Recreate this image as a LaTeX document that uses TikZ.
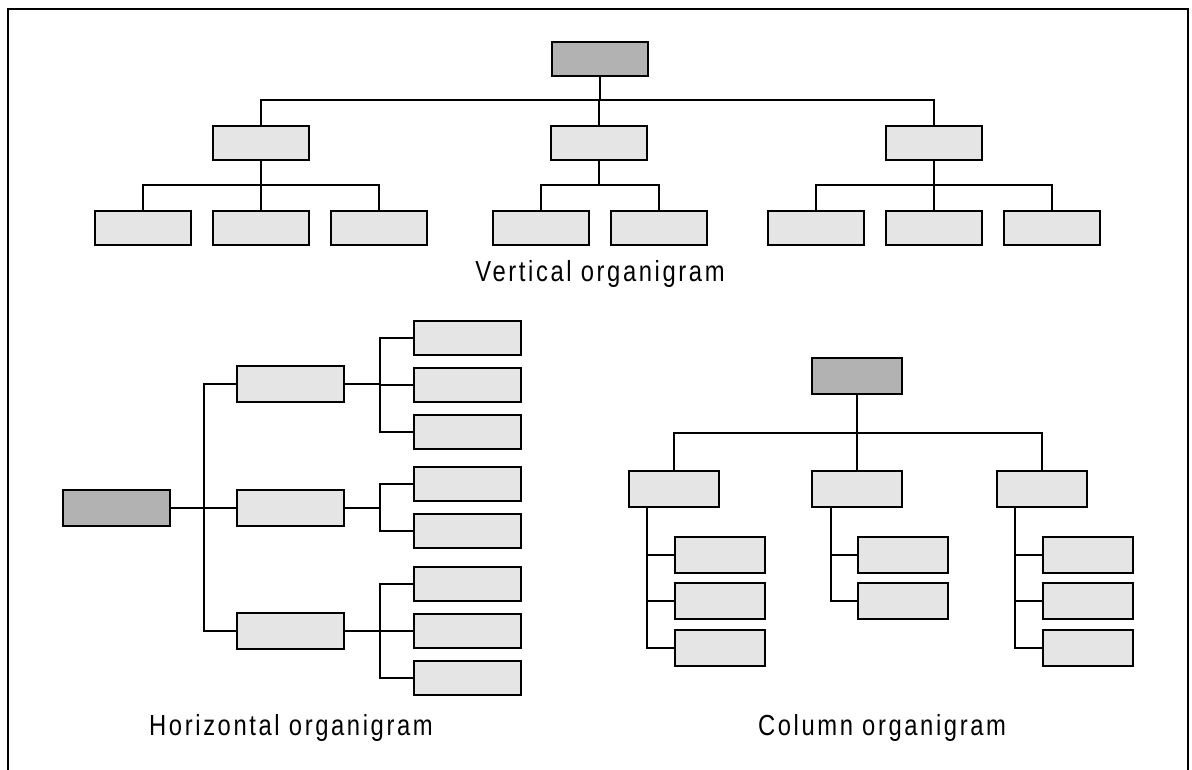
\documentclass[tikz,border=0pt]{standalone}
\usepackage{fontspec}
\setmainfont{Liberation Sans}[FakeStretch=0.82,LetterSpace=9]
\begin{document}
\begin{tikzpicture}[x=1pt,y=-1pt,
  line width=2pt,
  lite/.style={draw,fill=black!10,minimum width=96pt,minimum height=34pt,inner sep=0pt},
  dark/.style={draw,fill=black!30,minimum width=96pt,minimum height=34pt,inner sep=0pt},
  wide/.style={minimum width=107pt},
  mid/.style={minimum width=90pt},
  tall/.style={minimum height=36pt},
  caption/.style={font=\fontsize{29}{33}\selectfont,anchor=base,inner sep=0pt}]
\useasboundingbox (0,0) rectangle (1192,770);
% outer frame, open at the bottom
\draw (8,770) -- (8,9) -- (1188,9) -- (1188,770);

% ---------- vertical organigram ----------
\node[dark] (vr) at (600,59) {};
\node[lite] (va) at (261,143) {};
\node[lite] (vb) at (599,143) {};
\node[lite] (vc) at (934,143) {};
\node[lite] (va1) at (143,228) {};
\node[lite] (va2) at (261,228) {};
\node[lite] (va3) at (379,228) {};
\node[lite] (vb1) at (541,228) {};
\node[lite] (vb2) at (659,228) {};
\node[lite] (vc1) at (816,228) {};
\node[lite] (vc2) at (934,228) {};
\node[lite] (vc3) at (1052,228) {};
\coordinate (vbus) at (600,100);
\coordinate (vabus) at (261,185);
\coordinate (vbbus) at (599,185);
\coordinate (vcbus) at (934,185);
\draw (vr.south) -- (vbus);
\draw (va.north) |- (vbus) -| (vc.north);
\draw (vb.north) -- (vb.north |- vbus);
\draw (va.south) -- (vabus);
\draw (va1.north) |- (vabus) -| (va3.north);
\draw (va2.north) -- (vabus);
\draw (vb.south) -- (vbbus);
\draw (vb1.north) |- (vbbus) -| (vb2.north);
\draw (vc.south) -- (vcbus);
\draw (vc1.north) |- (vcbus) -| (vc3.north);
\draw (vc2.north) -- (vcbus);
\node[caption] (vcap) at (600,282) {Vertical organigram};

% ---------- horizontal organigram ----------
\node[dark,wide,tall] (hr) at (116,508) {};
\node[lite,wide,tall] (ha) at (290,384) {};
\node[lite,wide,tall] (hb) at (290,508) {};
\node[lite,wide,tall] (hc) at (290,631) {};
\node[lite,wide] (ha1) at (467,338) {};
\node[lite,wide] (ha2) at (467,385) {};
\node[lite,wide] (ha3) at (467,432) {};
\node[lite,wide] (hb1) at (467,484) {};
\node[lite,wide] (hb2) at (467,531) {};
\node[lite,wide] (hc1) at (467,584) {};
\node[lite,wide] (hc2) at (467,631) {};
\node[lite,wide] (hc3) at (467,678) {};
\coordinate (hbus) at (204,508);
\coordinate (habus) at (380,384);
\coordinate (hbbus) at (380,508);
\coordinate (hcbus) at (380,631);
\draw (hr.east) -- (hb.west);
\draw (ha.west) -| (hbus) |- (hc.west);
\draw (ha.east) -- (habus);
\draw (ha1.west) -| (habus) |- (ha3.west);
\draw (ha2.west) -- (ha2.west -| habus);
\draw (hb.east) -- (hbbus);
\draw (hb1.west) -| (hbbus) |- (hb2.west);
\draw (hc.east) -- (hcbus);
\draw (hc1.west) -| (hcbus) |- (hc3.west);
\draw (hc2.west) -- (hc2.west -| hcbus);
\node[caption] (hcap) at (291,735) {Horizontal organigram};

% ---------- column organigram ----------
\node[dark,mid,tall] (cr) at (857,376) {};
\node[lite,mid,tall] (ca) at (674,489) {};
\node[lite,mid,tall] (cb) at (857,489) {};
\node[lite,mid,tall] (cc) at (1042,489) {};
\node[lite,mid,tall] (ca1) at (720,555) {};
\node[lite,mid,tall] (ca2) at (720,601) {};
\node[lite,mid,tall] (ca3) at (720,648) {};
\node[lite,mid,tall] (cb1) at (903,555) {};
\node[lite,mid,tall] (cb2) at (903,601) {};
\node[lite,mid,tall] (cc1) at (1088,555) {};
\node[lite,mid,tall] (cc2) at (1088,601) {};
\node[lite,mid,tall] (cc3) at (1088,648) {};
\coordinate (cbus) at (857,433);
\coordinate (catrunk) at (647,508);
\coordinate (cbtrunk) at (831,508);
\coordinate (cctrunk) at (1015,508);
\draw (cr.south) -- (cbus);
\draw (ca.north) |- (cbus) -| (cc.north);
\draw (cb.north) -- (cb.north |- cbus);
\draw (catrunk) |- (ca3.west);
\draw (ca1.west) -- (ca1.west -| catrunk);
\draw (ca2.west) -- (ca2.west -| catrunk);
\draw (cbtrunk) |- (cb2.west);
\draw (cb1.west) -- (cb1.west -| cbtrunk);
\draw (cctrunk) |- (cc3.west);
\draw (cc1.west) -- (cc1.west -| cctrunk);
\draw (cc2.west) -- (cc2.west -| cctrunk);
\node[caption] (ccap) at (882,735) {Column organigram};
\end{tikzpicture}
\end{document}
